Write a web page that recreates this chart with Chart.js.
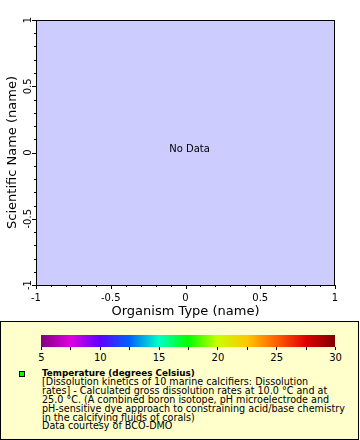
<!DOCTYPE html>
<html>
<head>
<meta charset="utf-8">
<script src="https://cdn.jsdelivr.net/npm/chart.js@4/dist/chart.umd.min.js"></script>
<style>
  body { margin: 0; background: #fff; font-family: "DejaVu Sans", sans-serif; }
  #wrap { position: relative; width: 360px; height: 440px; }
  #chart-box { position: absolute; left: 0; top: 0; width: 360px; height: 320px; }
  #legend {
    position: absolute; left: 0; top: 321px; width: 359px; height: 119px;
    box-sizing: border-box; border: 1px solid #000; background: #ffffcc;
  }
  #colorbar { position: absolute; left: 40px; top: 13px; width: 294px; height: 12px; }
  .cb-tick { position: absolute; top: 25px; width: 1px; height: 3px; background: #000; }
  .cb-label { position: absolute; top: 30px; width: 30px; margin-left: -15px; text-align: center; font-size: 10px; color: #000; }
  #marker {
    position: absolute; left: 18px; top: 49px; width: 6px; height: 6px;
    box-sizing: border-box; border: 1px solid #000; background: #00ff00;
  }
  #legend-text { position: absolute; left: 41px; top: 47px; width: 316px; font-size: 9.6px; line-height: 8.9px; color: #000; }
  #legend-text b { font-size: 8.8px; }
</style>
</head>
<body>
<div id="wrap">
  <div id="chart-box"><canvas id="chart"></canvas></div>
  <div id="legend">
    <div id="colorbar"></div>
    <div id="marker"></div>
    <div id="legend-text"></div>
  </div>
</div>
<script>
// no measurements in this dataset, so the plot stays empty
const organismType = [];
const scientificName = [];
const temperature = [];

const axisMin = -1;
const axisMax = 1;
const tickStep = 0.1;
const majorStep = 0.5;

const colorbarTicks = [5, 10, 15, 20, 25, 30];
const colorbarMinorTicks = [7.5, 12.5, 17.5, 22.5, 27.5];
const colorbarColors = ["#800080", "#e000e0", "#6000ff", "#0060ff", "#00ffc8", "#00ff00",
  "#c8ff00", "#ffc800", "#ff6000", "#e00000", "#800000"];

const seriesTitle = "Temperature (degrees Celsius)";
const seriesNote = [
  "[Dissolution kinetics of 10 marine calcifiers: Dissolution",
  "rates] - Calculated gross dissolution rates at 10.0 °C and at",
  "25.0 °C. (A combined boron isotope, pH microelectrode and",
  "pH-sensitive dye approach to constraining acid/base chemistry",
  "in the calcifying fluids of corals)",
  "Data courtesy of BCO-DMO"
];

const FONT = "'DejaVu Sans', sans-serif";

function isMajor(v) {
  return Math.abs(v / majorStep - Math.round(v / majorStep)) < 1e-6;
}

function tickLabel(v) {
  return isMajor(v) ? String(Math.round(v * 10) / 10) : "";
}

// plot background, frame, tick marks and the "No Data" note
const framePlugin = {
  id: "frame",
  beforeDraw(chart) {
    const { ctx, chartArea: a } = chart;
    ctx.save();
    ctx.fillStyle = "#ccccff";
    ctx.fillRect(a.left, a.top, a.right - a.left, a.bottom - a.top);
    ctx.restore();
  },
  afterDraw(chart) {
    const { ctx, chartArea: a, scales } = chart;
    ctx.save();
    ctx.strokeStyle = "#000";
    ctx.lineWidth = 1;
    ctx.beginPath();
    scales.x.ticks.forEach((t) => {
      const px = Math.round(scales.x.getPixelForValue(t.value)) + 0.5;
      const len = isMajor(t.value) ? 4 : 2;
      ctx.moveTo(px, a.bottom);
      ctx.lineTo(px, a.bottom + len);
    });
    scales.y.ticks.forEach((t) => {
      const py = Math.round(scales.y.getPixelForValue(t.value)) + 0.5;
      const len = isMajor(t.value) ? 4 : 2;
      ctx.moveTo(a.left, py);
      ctx.lineTo(a.left - len, py);
    });
    ctx.stroke();
    ctx.strokeRect(a.left + 0.5, a.top + 0.5, a.right - a.left - 1, a.bottom - a.top);

    if (temperature.length === 0) {
      ctx.fillStyle = "#000";
      ctx.font = "10px " + FONT;
      ctx.textAlign = "center";
      ctx.textBaseline = "middle";
      ctx.fillText("No Data", (a.left + a.right) / 2 + 4, (a.top + a.bottom) / 2 - 3);
    }
    ctx.restore();
  }
};

const points = organismType.map((x, i) => ({ x, y: scientificName[i] }));

new Chart(document.getElementById("chart"), {
  type: "scatter",
  data: {
    datasets: [{ label: seriesTitle, data: points, backgroundColor: "#00ff00", borderColor: "#000" }]
  },
  options: {
    responsive: true,
    maintainAspectRatio: false,
    animation: false,
    layout: { padding: { top: 20, right: 25, left: 0, bottom: 0 } },
    plugins: { legend: { display: false }, tooltip: { enabled: false } },
    scales: {
      x: {
        type: "linear",
        position: "bottom",
        min: axisMin,
        max: axisMax,
        ticks: {
          stepSize: tickStep, autoSkip: false, maxRotation: 0, padding: 7,
          color: "#000", font: { family: FONT, size: 10 }, callback: tickLabel
        },
        grid: { drawOnChartArea: false, drawTicks: false },
        border: { display: false },
        title: {
          display: true, text: "Organism Type (name)", color: "#000",
          font: { family: FONT, size: 13 }, padding: { top: 0, bottom: 1 }
        },
        afterFit: (s) => { s.height = 35; }
      },
      y: {
        type: "linear",
        position: "left",
        min: axisMin,
        max: axisMax,
        ticks: {
          stepSize: tickStep, autoSkip: false, minRotation: 90, maxRotation: 90,
          crossAlign: "center", padding: -2,
          color: "#000", font: { family: FONT, size: 10 }, callback: tickLabel
        },
        grid: { drawOnChartArea: false, drawTicks: false },
        border: { display: false },
        title: {
          display: true, text: "Scientific Name (name)", color: "#000",
          font: { family: FONT, size: 13 }, padding: { top: 5, bottom: 0 }
        },
        afterFit: (s) => { s.width = 36; }
      }
    }
  },
  plugins: [framePlugin]
});

// colour bar legend
const cbMin = colorbarTicks[0];
const cbMax = colorbarTicks[colorbarTicks.length - 1];
const cbWidth = 294;
const colorbarEl = document.getElementById("colorbar");
colorbarEl.style.background = "linear-gradient(to right, " + colorbarColors.join(", ") + ")";
const legendEl = document.getElementById("legend");

function cbPos(v) {
  return 40 + (v - cbMin) / (cbMax - cbMin) * cbWidth;
}

colorbarTicks.concat(colorbarMinorTicks).forEach((v) => {
  const tick = document.createElement("div");
  tick.className = "cb-tick";
  tick.style.left = Math.round(cbPos(v)) + "px";
  legendEl.appendChild(tick);
});

colorbarTicks.forEach((v) => {
  const lab = document.createElement("div");
  lab.className = "cb-label";
  lab.style.left = cbPos(v) + 0.5 + "px";
  lab.textContent = v;
  legendEl.appendChild(lab);
});

const textEl = document.getElementById("legend-text");
const titleEl = document.createElement("b");
titleEl.textContent = seriesTitle;
textEl.appendChild(titleEl);
seriesNote.forEach((line) => {
  textEl.appendChild(document.createElement("br"));
  textEl.appendChild(document.createTextNode(line));
});
</script>
</body>
</html>
